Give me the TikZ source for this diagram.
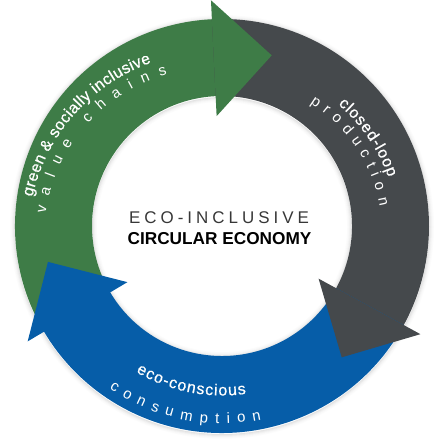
\documentclass[tikz,border=0pt]{standalone}
\usepackage{fontspec}
\setmainfont{Liberation Sans}
\newfontfamily\medfam{Liberation Sans}[FakeBold=0.7]
\usetikzlibrary{decorations.text,calc}
\definecolor{cgreen}{RGB}{62,124,71}
\definecolor{cgray}{RGB}{69,73,76}
\definecolor{cblue}{RGB}{6,93,168}
\definecolor{ctext}{RGB}{55,55,55}
\newcommand\medf{\medfam\fontsize{16}{16}\selectfont}
\newcommand\lightf{\fontsize{15}{15}\selectfont}
\newcommand\ecosp{\kern4bp}
% shaft: color, tail angle, head-back angle
\newcommand\arcshaft[3]{%
  \fill[#1] ($(O)+(#2:207bp)$) arc[start angle=#2,end angle=#3-1,radius=207bp]
    -- ($(O)+(#3-1:130bp)$) arc[start angle=#3-1,end angle=#2,radius=130bp] -- cycle;}
% head: color, back angle
\newcommand\archead[2]{%
  \fill[#1] ($(O)+(#2:226bp)$) -- ($(O)+(#2:168bp)+(#2-90:58bp)$) -- ($(O)+(#2:110bp)$) -- cycle;}
\begin{document}
\begin{tikzpicture}[x=1bp,y=1bp]
\fill[white] (0,0) rectangle (447,442);
\useasboundingbox (0,0) rectangle (447,442);
\coordinate (O) at (222,216);
\coordinate (Cg) at (213,205);
\coordinate (Cr) at (227,207.5);
\coordinate (Cb) at (222,216);
\coordinate (Os) at (222,215);
% soft shadow of the ring
\foreach \k/\o [evaluate=\k as \ro using 207+\k, evaluate=\k as \ri using 130-\k] in
  {0.5/0.10,1.5/0.07,2.5/0.045,3.5/0.025,4.5/0.012}{
  \draw[black,opacity=\o,line width=1bp] (Os) circle[radius=\ro bp];
  \draw[black,opacity=\o,line width=1bp] (Os) circle[radius=\ri bp];
}
% shafts
\arcshaft{cgreen}{210.7}{92.8}
\arcshaft{cgray}{92.8}{-28.6}
\arcshaft{cblue}{-28.6}{-149.3}
% heads
\archead{cgreen}{92.8}
\archead{cgray}{-28.6}
\archead{cblue}{-149.3}
% curved labels
\path[decorate,decoration={text along path,text color=white,text align={fit to path},
  text={|\medf|green {\&} socially inclusive}}]
  ($(Cg)+(167.5:185bp)$) arc[start angle=167.5,end angle=109.5,radius=185bp];
\path[decorate,decoration={text along path,text color=white,text align={fit to path},
  text={|\lightf|value chains}}]
  ($(Cg)+(172:169bp)$) arc[start angle=172,end angle=105.7,radius=169bp];
\path[decorate,decoration={text along path,text color=white,text align={fit to path},
  text={|\medf|closed-loop}}]
  ($(Cr)+(49.5:171bp)$) arc[start angle=49.5,end angle=19.5,radius=171bp];
\path[decorate,decoration={text along path,text color=white,text align={fit to path},
  text={|\lightf|production}}]
  ($(Cr)+(57.7:155.5bp)$) arc[start angle=57.7,end angle=10.5,radius=155.5bp];
\path[decorate,decoration={text along path,text color=white,text align={fit to path},
  text={|\medf|eco-conscious}}]
  ($(Cb)+(239.5:169.5bp)$) arc[start angle=239.5,end angle=278.2,radius=169.5bp];
\path[decorate,decoration={text along path,text color=white,text align={fit to path},
  text={|\lightf|consumption}}]
  ($(Cb)+(235.2:197.5bp)$) arc[start angle=235.2,end angle=281.5,radius=197.5bp];
% centre title
\node[anchor=base,inner sep=0pt,text=ctext,font=\fontsize{17}{17}\selectfont] (t1) at (219,218.7)
  {E\ecosp C\ecosp O\ecosp -\ecosp I\ecosp N\ecosp C\ecosp L\ecosp U\ecosp S\ecosp I\ecosp V\ecosp E};
\node[anchor=base,inner sep=0pt,text=black,font=\bfseries\fontsize{17.3}{17.3}\selectfont] (t2) at (219.5,197)
  {CIRCULAR ECONOMY};
\end{tikzpicture}
\end{document}
